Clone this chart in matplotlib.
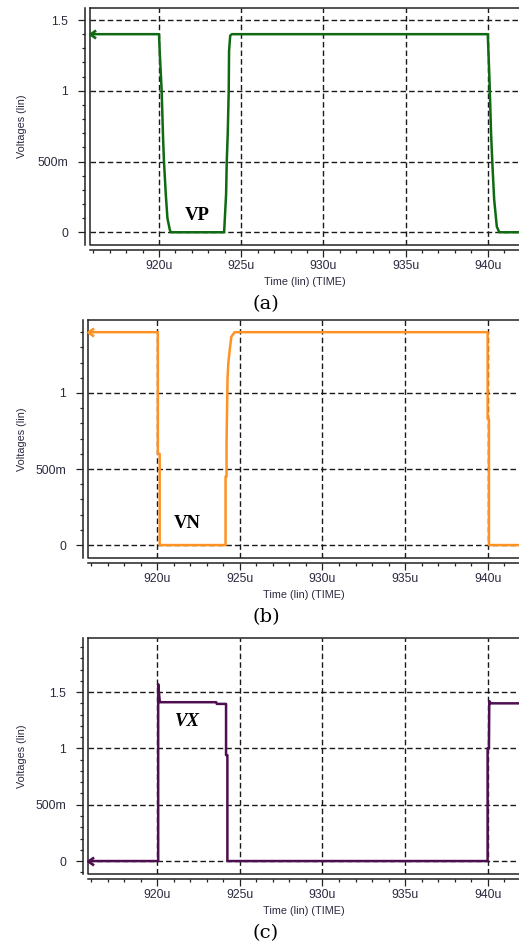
import matplotlib
matplotlib.use("Agg")
import matplotlib.pyplot as plt
from matplotlib.path import Path
from matplotlib.ticker import MultipleLocator, FixedLocator
from matplotlib.lines import Line2D

# tiempos en microsegundos, tensiones en voltios
vp_t = [915.8, 920.0, 920.04, 920.16, 920.25, 920.3, 920.41, 920.51, 920.65, 920.71,
        923.96, 924.08, 924.12, 924.18, 924.24, 924.26, 924.33, 924.43,
        940.0, 940.1, 940.14, 940.2, 940.29, 940.39, 940.55, 940.7, 941.9]
vp_v = [1.40, 1.40, 1.28, 1.00, 0.65, 0.50, 0.27, 0.10, 0.02, 0.0,
        0.0, 0.27, 0.50, 0.70, 1.00, 1.28, 1.39, 1.40,
        1.40, 1.09, 0.94, 0.70, 0.46, 0.23, 0.04, 0.0, 0.0]

vn_t = [915.8, 920.03, 920.03, 920.14, 920.14, 924.13, 924.13, 924.19, 924.19,
        924.25, 924.3, 924.38, 924.48, 924.68, 924.88,
        940.0, 940.0, 940.08, 940.08, 941.9]
vn_v = [1.40, 1.40, 0.60, 0.60, 0.0, 0.0, 0.45, 0.45, 0.67,
        1.10, 1.20, 1.28, 1.37, 1.40, 1.40,
        1.40, 0.83, 0.83, 0.0, 0.0]

vx_t = [915.8, 920.05, 920.05, 920.15, 923.56, 923.6, 924.16, 924.16, 924.24, 924.24,
        940.0, 940.0, 940.08, 940.1, 940.2, 941.9]
vx_v = [0.0, 0.0, 1.57, 1.41, 1.41, 1.395, 1.395, 0.94, 0.94, 0.0,
        0.0, 1.0, 1.0, 1.42, 1.40, 1.40]

paneles = [
    # (t, v, color, nombre, estilo, pos. etiqueta, ylim, ticks y, rect, letra)
    (vp_t, vp_v, '#0f6a12', 'VP', 'normal', (922.3, 0.12), (-0.09, 1.585),
     [0, 0.5, 1, 1.5], [90, 8, 245], '(a)', 304),
    (vn_t, vn_v, '#ff9224', 'VN', 'normal', (921.8, 0.14), (-0.085, 1.48),
     [0, 0.5, 1, 1.5], [88, 320, 558], '(b)', 617),
    (vx_t, vx_v, '#4d0f4f', 'VX', 'italic', (921.8, 1.24), (-0.115, 1.98),
     [0, 0.5, 1, 1.5], [88, 638, 874], '(c)', 933),
]
xticks = [920, 925, 930, 935, 940]
xlabels = ['920u', '925u', '930u', '935u', '940u']
ylabels = {0: '0', 0.5: '500m', 1: '1', 1.5: '1.5'}

W, H = 519, 948
fig = plt.figure(figsize=(W / 100, H / 100), dpi=100)

# flecha "<" al inicio de cada traza
flecha = Path([(1.4, 1), (0, 0), (1.4, -1)], [Path.MOVETO, Path.LINETO, Path.LINETO])

for t, v, color, nombre, estilo, pos, ylim, yt, (izq, arriba, abajo), letra, yletra in paneles:
    ax = fig.add_axes([izq / W, 1 - abajo / H, 1 - izq / W, (abajo - arriba) / H])
    ax.set_xlim(915.8, 941.9)
    ax.set_ylim(*ylim)

    ax.xaxis.set_major_locator(FixedLocator(xticks))
    ax.set_xticklabels(xlabels)
    ax.xaxis.set_minor_locator(MultipleLocator(1))
    ax.yaxis.set_major_locator(FixedLocator(yt))
    ax.set_yticklabels([ylabels[y] for y in yt])
    ax.yaxis.set_minor_locator(MultipleLocator(0.1))

    ax.grid(True, which='major', color='#1a1a1a', linestyle=(0, (4, 2.2)), linewidth=1.0)
    ax.set_axisbelow(True)

    ax.plot(t, v, color=color, linewidth=1.8, zorder=3)
    ax.plot([t[0]], [v[0]], marker=flecha, markersize=8, color=color,
            markerfacecolor='none', markeredgewidth=1.9, zorder=4, clip_on=False)

    for lado in ['left', 'bottom']:
        ax.spines[lado].set_position(('outward', 3.6))
        ax.spines[lado].set_linewidth(1.1)
        ax.spines[lado].set_color('#222222')
    ax.spines['right'].set_visible(False)
    ax.spines['top'].set_linewidth(1.1)
    ax.spines['top'].set_color('#222222')
    # marco interior del gráfico
    ax.add_line(Line2D([0, 0, 1], [1, 0, 0], transform=ax.transAxes,
                       color='#222222', linewidth=1.1, clip_on=False))

    ax.tick_params(which='both', direction='out', colors='#222222', width=0.9,
                   labelcolor='#2a2a40', labelsize=8.8)
    ax.tick_params(axis='x', which='major', length=5, pad=2)
    ax.tick_params(axis='x', which='minor', length=2.5)
    ax.tick_params(axis='y', which='major', length=5, pad=7)
    ax.tick_params(axis='y', which='minor', length=2.5)
    for lab in ax.get_xticklabels() + ax.get_yticklabels():
        lab.set_fontfamily('Liberation Sans')

    ax.set_ylabel('Voltages (lin)', fontsize=7.8, family='Liberation Sans',
                  color='#2a2a40', va='center')
    ax.yaxis.set_label_coords((22 - izq) / (W - izq), 0.5)
    ax.set_xlabel('Time (lin) (TIME)', fontsize=7.8, family='Liberation Sans',
                  color='#2a2a40', va='center')
    ax.xaxis.set_label_coords(0.501, -37 / (abajo - arriba))

    ax.text(pos[0], pos[1], nombre, fontsize=13.5, fontweight='bold', fontstyle=estilo,
            family='Liberation Serif', ha='center', va='center', zorder=5)

    fig.text(266 / W, 1 - yletra / H, letra, fontsize=14, family='DejaVu Serif',
             ha='center', va='center')

fig.savefig('out.png', dpi=100)
